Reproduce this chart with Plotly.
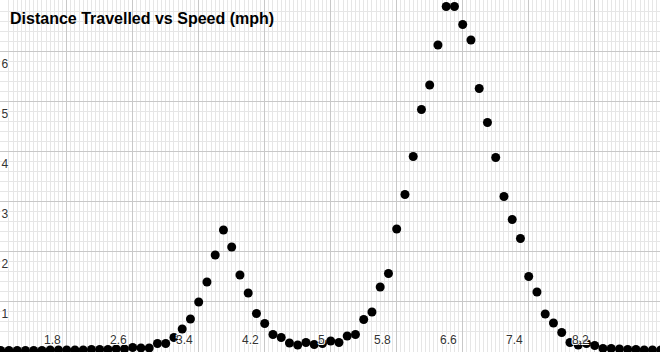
import plotly.graph_objects as go

# Speed (mph) values, every 0.1 from 1.0 to 9.0
speed = [round(1.0 + 0.1 * i, 1) for i in range(81)]
distance = [
    0.01, 0.01, 0.01, 0.01, 0.01, 0.01, 0.02, 0.02, 0.02, 0.02,   # 1.0-1.9
    0.02, 0.03, 0.03, 0.03, 0.04, 0.04, 0.07, 0.06, 0.06, 0.15,   # 2.0-2.9
    0.15, 0.27, 0.44, 0.64, 0.98, 1.38, 1.92, 2.42, 2.08, 1.52,   # 3.0-3.9
    1.16, 0.75, 0.55, 0.33, 0.27, 0.16, 0.12, 0.17, 0.13, 0.15,   # 4.0-4.9
    0.20, 0.17, 0.30, 0.33, 0.63, 0.78, 1.28, 1.55, 2.44, 3.13,   # 5.0-5.9
    3.89, 4.83, 5.32, 6.12, 6.89, 6.89, 6.53, 6.22, 5.25, 4.57,   # 6.0-6.9
    3.87, 3.09, 2.63, 2.25, 1.49, 1.18, 0.74, 0.56, 0.37, 0.17,   # 7.0-7.9
    0.12, 0.15, 0.11, 0.05, 0.05, 0.04, 0.03, 0.03, 0.02, 0.02,   # 8.0-8.9
    0.02,                                                         # 9.0
]

x_tickvals = [1.8, 2.6, 3.4, 4.2, 5.0, 5.8, 6.6, 7.4, 8.2]
x_ticktext = ["1.8", "2.6", "3.4", "4.2", "5", "5.8", "6.6", "7.4", "8.2"]
y_tickvals = [1, 2, 3, 4, 5, 6]
y_ticktext = ["1", "2", "3", "4", "5", "6"]

title_text = "Distance Travelled vs Speed (mph)"

halo = "1px 1px 0 #fff, -1px -1px 0 #fff, 1px -1px 0 #fff, -1px 1px 0 #fff"

fig = go.Figure()
fig.add_trace(go.Scatter(
    x=speed, y=distance, mode="markers",
    marker=dict(color="black", size=9, line=dict(width=0)),
    showlegend=False, cliponaxis=True,
))

fig.update_layout(
    width=660, height=352,
    margin=dict(l=0, r=0, t=0, b=0),
    paper_bgcolor="white", plot_bgcolor="white",
    title=dict(text=title_text, x=10 / 660, xanchor="left", y=1 - 18 / 352, yanchor="middle",
               font=dict(family="Liberation Sans, Arial, sans-serif", size=16, color="black", weight="bold")),
    xaxis=dict(
        range=[1 - 0.7 / 82.5, 1 - 0.7 / 82.5 + 660 / 82.5],
        tickmode="array", tickvals=x_tickvals, ticktext=x_ticktext,
        ticks="", showgrid=True, gridcolor="#c8c8c8", gridwidth=1,
        zeroline=False, showline=False,
        ticklabelposition="inside left", layer="above traces", ticklabelshift=-6,
        tickfont=dict(family="Liberation Sans, Arial, sans-serif", size=12, color="#333", shadow=halo),
        minor=dict(tickmode="linear", tick0=1.8, dtick=0.05, showgrid=True, gridcolor="#e6e6e6", gridwidth=1, ticks=""),
    ),
    yaxis=dict(
        range=[-0.02, 7.02],
        tickmode="array", tickvals=y_tickvals, ticktext=y_ticktext,
        ticks="", showgrid=True, gridcolor="#c8c8c8", gridwidth=1,
        zeroline=True, zerolinecolor="black", zerolinewidth=2,
        showline=True, linecolor="#222", linewidth=2,
        ticklabelposition="inside bottom", layer="above traces", ticklabelshift=4,
        tickfont=dict(family="Liberation Sans, Arial, sans-serif", size=12, color="#333", shadow=halo),
        minor=dict(tickmode="linear", tick0=0, dtick=0.2, showgrid=True, gridcolor="#e6e6e6", gridwidth=1, ticks=""),
    ),
)

fig.write_html("out.html")
